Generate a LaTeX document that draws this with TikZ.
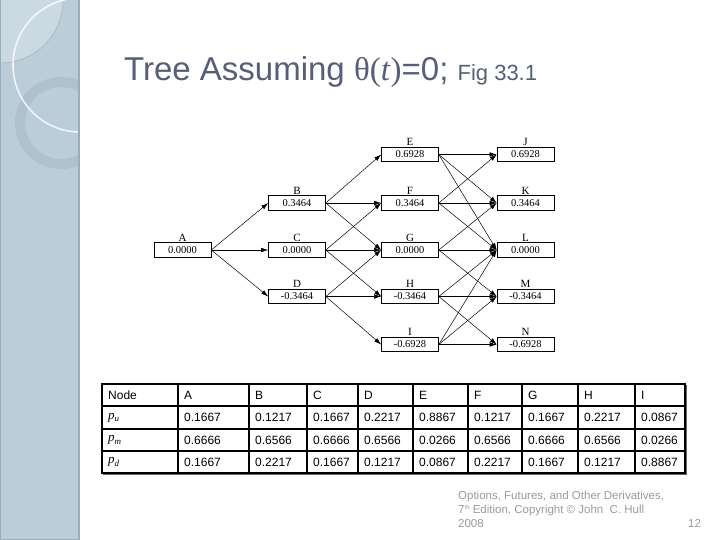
\documentclass[tikz,border=0pt]{standalone}
\usepackage{fontspec}
\setmainfont{Liberation Serif}
\newfontfamily\arialfont{Liberation Sans}
\usetikzlibrary{positioning, arrows.meta}
\newcommand{\treearrow}{-{Latex[length=7pt,width=4.5pt]}}
\newcommand{\colx}{{102,178,249,307,358,413,468,522,578,635,685}}
\newcommand{\prob}[1]{{\rmfamily\fontsize{13}{14}\selectfont\textit{p}\raisebox{-2.5pt}{\fontsize{9}{10}\selectfont\textit{#1}}}}
\definecolor{titleblue}{HTML}{575F78}
\definecolor{panelblue}{HTML}{BACDD8}
\definecolor{panellight}{HTML}{CBDAE2}
\definecolor{paneledge}{HTML}{9AADB9}
\definecolor{panelring}{HTML}{AEC1CC}
\definecolor{footgray}{HTML}{9A9A9A}
\tikzset{
  treebox/.style={draw, rectangle, line width=0.6pt, minimum width=57pt,
    minimum height=14.5pt, inner sep=0pt, font=\fontsize{10.5}{12}\selectfont},
  treelabel/.style={font=\fontsize{11}{12}\selectfont, inner sep=1pt},
  cell/.style={anchor=west, inner sep=0pt, font=\arialfont\fontsize{12}{14}\selectfont},
  footline/.style={anchor=base west, inner sep=0pt, text=footgray,
    font=\arialfont\fontsize{11.5}{14}\selectfont}
}

\begin{document}
\begin{tikzpicture}[x=1pt, y=-1pt]
    \useasboundingbox (0,0) rectangle (720,540);
    \fill[white] (0,0) rectangle (720,540);

    % side panel
    \begin{scope}
        \clip (0,0) rectangle (79,540);
        \fill[panelblue] (0,0) rectangle (79,540);
        \fill[panellight] (0,0) circle (63);
        \draw[paneledge, line width=0.4pt] (0,0) circle (63);
        \draw[panelring, line width=10pt] (61,123) circle (41);
        \draw[white, line width=1.6pt, opacity=0.8] (80,65) circle (67);
    \end{scope}
    \draw[paneledge, line width=1.2pt] (0.6,0) -- (0.6,539.4) -- (79,539.4);
    \draw[paneledge, line width=1.5pt] (79,0) -- (79,540);

    % title
    \node[anchor=base west, inner sep=0pt, text=titleblue,
        font=\arialfont\fontsize{33}{36}\selectfont] (title) at (124,81)
        {Tree Assuming {\rmfamily θ(\textit{t})}=0; {\fontsize{22}{24}\selectfont Fig 33.1}};

    % tree nodes
    \node[treebox, label={[treelabel]above:A}] (A) at (182.5,250) {0.0000};
    \node[treebox, label={[treelabel]above:B}] (B) at (297,203) {0.3464};
    \node[treebox, label={[treelabel]above:C}] (C) at (297,250) {0.0000};
    \node[treebox, label={[treelabel]above:D}] (D) at (297,296.5) {-0.3464};
    \node[treebox, label={[treelabel]above:E}] (E) at (410,154.5) {0.6928};
    \node[treebox, label={[treelabel]above:F}] (F) at (410,203) {0.3464};
    \node[treebox, label={[treelabel]above:G}] (G) at (410,250) {0.0000};
    \node[treebox, label={[treelabel]above:H}] (H) at (410,296.5) {-0.3464};
    \node[treebox, label={[treelabel]above:I}] (I) at (410,344.5) {-0.6928};
    \node[treebox, label={[treelabel]above:J}] (J) at (525.5,154.5) {0.6928};
    \node[treebox, label={[treelabel]above:K}] (K) at (525.5,203) {0.3464};
    \node[treebox, label={[treelabel]above:L}] (L) at (525.5,250) {0.0000};
    \node[treebox, label={[treelabel]above:M}] (M) at (525.5,296.5) {-0.3464};
    \node[treebox, label={[treelabel]above:N}] (N) at (525.5,344.5) {-0.6928};

    % branches
    \begin{scope}[line width=0.5pt]
        \draw[\treearrow] (A.east) -- (B.west);
        \draw[\treearrow] (A.east) -- (C.west);
        \draw[\treearrow] (A.east) -- (D.west);
        \draw[\treearrow] (B.east) -- (E.west);
        \draw[\treearrow] (B.east) -- (F.west);
        \draw[\treearrow] (B.east) -- (G.west);
        \draw[\treearrow] (C.east) -- (F.west);
        \draw[\treearrow] (C.east) -- (G.west);
        \draw[\treearrow] (C.east) -- (H.west);
        \draw[\treearrow] (D.east) -- (G.west);
        \draw[\treearrow] (D.east) -- (H.west);
        \draw[\treearrow] (D.east) -- (I.west);
        \draw[\treearrow] (E.east) -- (J.west);
        \draw[\treearrow] (E.east) -- (K.west);
        \draw[\treearrow] (E.east) -- (L.west);
        \draw[\treearrow] (F.east) -- (J.west);
        \draw[\treearrow] (F.east) -- (K.west);
        \draw[\treearrow] (F.east) -- (L.west);
        \draw[\treearrow] (G.east) -- (K.west);
        \draw[\treearrow] (G.east) -- (L.west);
        \draw[\treearrow] (G.east) -- (M.west);
        \draw[\treearrow] (H.east) -- (L.west);
        \draw[\treearrow] (H.east) -- (M.west);
        \draw[\treearrow] (H.east) -- (N.west);
        \draw[\treearrow] (I.east) -- (L.west);
        \draw[\treearrow] (I.east) -- (M.west);
        \draw[\treearrow] (I.east) -- (N.west);
    \end{scope}

    % probability table
    \foreach \yl in {406,429,451}
        \draw[line width=1.6pt] (102,\yl) -- (685,\yl);
    \foreach \xl in {178,249,307,358,413,468,522,578,635}
        \draw[line width=1.6pt] (\xl,384) -- (\xl,473);
    \draw[line width=2pt] (102,384) rectangle (685,473);
    \draw[line width=1pt, black!60] (686.5,385) -- (686.5,474.5) -- (103,474.5);

    \foreach \v [count=\i] in {Node,A,B,C,D,E,F,G,H,I} {
        \pgfmathsetmacro{\cx}{\colx[\i-1]+6}
        \node[cell] (head\i) at (\cx,395) {\v};
    }
    \foreach \v [count=\i] in {{\prob{u}},0.1667,0.1217,0.1667,0.2217,0.8867,0.1217,0.1667,0.2217,0.0867} {
        \pgfmathsetmacro{\cx}{\colx[\i-1]+6}
        \node[cell] (pu\i) at (\cx,417.5) {\v};
    }
    \foreach \v [count=\i] in {{\prob{m}},0.6666,0.6566,0.6666,0.6566,0.0266,0.6566,0.6666,0.6566,0.0266} {
        \pgfmathsetmacro{\cx}{\colx[\i-1]+6}
        \node[cell] (pm\i) at (\cx,440) {\v};
    }
    \foreach \v [count=\i] in {{\prob{d}},0.1667,0.2217,0.1667,0.1217,0.0867,0.2217,0.1667,0.1217,0.8867} {
        \pgfmathsetmacro{\cx}{\colx[\i-1]+6}
        \node[cell] (pd\i) at (\cx,462) {\v};
    }

    % footer
    \node[footline] (foot1) at (458,499) {Options, Futures, and Other Derivatives,};
    \node[footline] (foot2) at (458,513) {7{\fontsize{6}{7}\selectfont\raisebox{3.5pt}{th}} Edition, Copyright © John\ \ C. Hull};
    \node[footline] (foot3) at (458,527) {2008};
    \node[footline] (page) at (688,527) {12};
\end{tikzpicture}
\end{document}
